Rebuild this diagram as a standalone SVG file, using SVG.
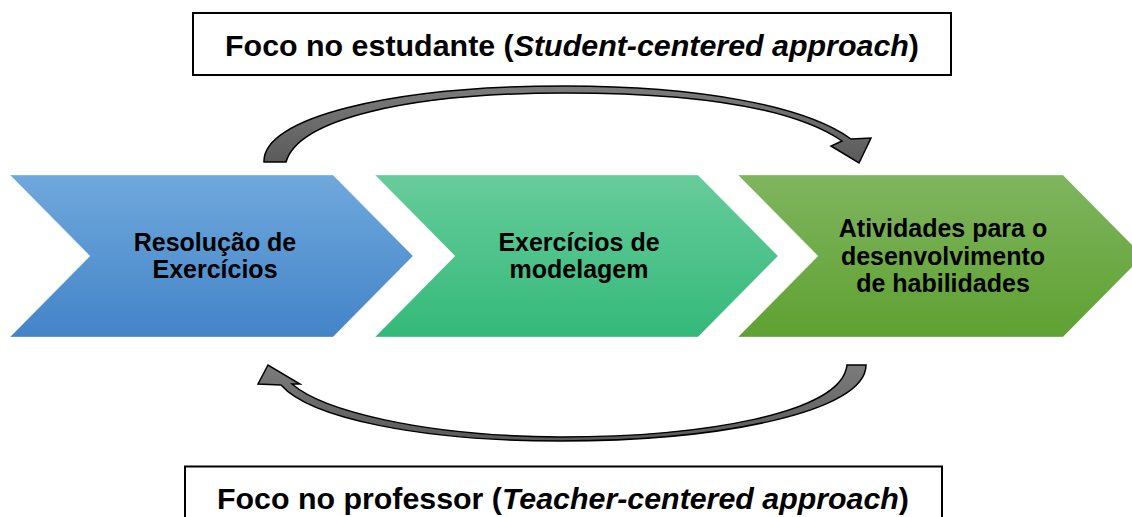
<svg xmlns="http://www.w3.org/2000/svg" width="1132" height="517" viewBox="0 0 1132 517">
<defs>
<style>
.lbl{font-family:"Liberation Sans",Arial,sans-serif;font-weight:bold;font-size:25px;fill:#000;text-anchor:middle}
.focus{font-family:"Liberation Sans",Arial,sans-serif;font-weight:bold;font-size:30px;fill:#000}
.box{fill:#fff;stroke:#000;stroke-width:2}
.chev{stroke:#fff;stroke-opacity:0.35;stroke-width:1}
.curve{fill:url(#gGray);stroke:#000;stroke-width:1.5;stroke-linejoin:miter}
</style>
<linearGradient id="gBlue" x1="0" y1="0" x2="0" y2="1">
<stop offset="0" stop-color="#6fa8dc"/><stop offset="1" stop-color="#4384c8"/>
</linearGradient>
<linearGradient id="gTeal" x1="0" y1="0" x2="0" y2="1">
<stop offset="0" stop-color="#67cc9b"/><stop offset="1" stop-color="#34b97a"/>
</linearGradient>
<linearGradient id="gGreen" x1="0" y1="0" x2="0" y2="1">
<stop offset="0" stop-color="#7fb55f"/><stop offset="1" stop-color="#5fa131"/>
</linearGradient>
<linearGradient id="gGray" x1="0" y1="0" x2="0" y2="1">
<stop offset="0" stop-color="#7c7c7c"/><stop offset="1" stop-color="#5a5a5a"/>
</linearGradient>
</defs>

<g id="connectors">
<path class="curve" d="M264,162 C262,118 390,86 565,86 C700,86 805,106 851,139 L871,138 L859,163 L831,146 L842,141 C795,109 700,93 565,93 C405,93 298,120 286,162 Z"/>
<path class="curve" d="M866,365 C866,412 720,441 560,441 C420,441 310,418 281,385 L258,384 L268,365 L300,384 L292,384 C322,410 420,436 560,437 C700,437 842,414 847,365 Z"/>
</g>

<g id="node-resolucao">
<path class="chev" fill="url(#gBlue)" d="M10,175 L333,175 L413,256 L333,337 L10,337 L90,256 Z"/>
<text class="lbl" x="215" y="250.5">Resolução de</text>
<text class="lbl" x="215" y="278">Exercícios</text>
</g>

<g id="node-modelagem">
<path class="chev" fill="url(#gTeal)" d="M375,175 L698,175 L778,256 L698,337 L375,337 L455,256 Z"/>
<text class="lbl" x="579" y="250.5">Exercícios de</text>
<text class="lbl" x="579" y="278">modelagem</text>
</g>

<g id="node-atividades">
<path class="chev" fill="url(#gGreen)" d="M738,175 L1063,175 L1143,256 L1063,337 L738,337 L818,256 Z"/>
<text class="lbl" x="943" y="237">Atividades para o</text>
<text class="lbl" x="943" y="264.5">desenvolvimento</text>
<text class="lbl" x="943" y="292">de habilidades</text>
</g>

<g id="node-estudante">
<rect class="box" x="193" y="13" width="758" height="62"/>
<text class="focus" x="225" y="56" textLength="694" lengthAdjust="spacingAndGlyphs">Foco no estudante (<tspan font-style="italic">Student-centered approach</tspan>)</text>
</g>

<g id="node-professor">
<rect class="box" x="185" y="466.5" width="757" height="62"/>
<text class="focus" x="217" y="509" textLength="692" lengthAdjust="spacingAndGlyphs">Foco no professor (<tspan font-style="italic">Teacher-centered approach</tspan>)</text>
</g>
</svg>
